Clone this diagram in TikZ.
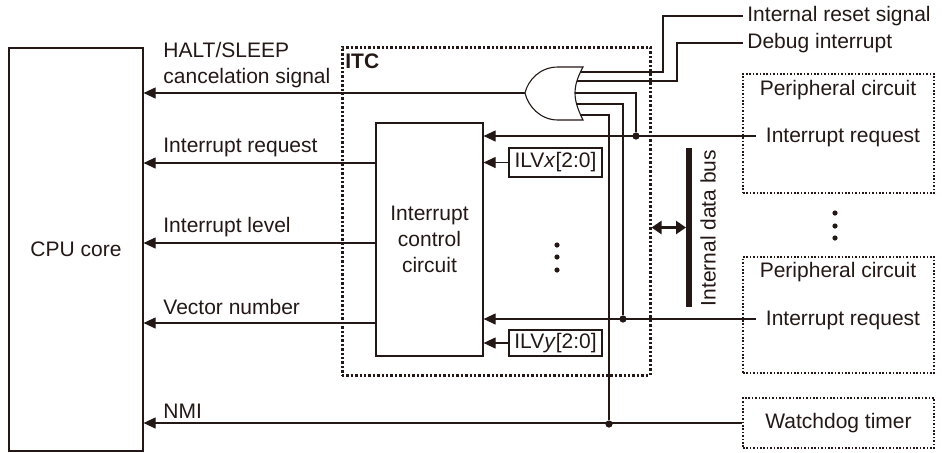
\documentclass[tikz,border=0pt]{standalone}
\usepackage{fontspec}
\setmainfont{Liberation Sans}
\usetikzlibrary{arrows.meta}
\definecolor{ink}{HTML}{231815}
\begin{document}
\begin{tikzpicture}[x=0.5pt,y=-0.5pt,
  font=\fontsize{10.5}{13}\selectfont, text=ink,
  sig/.style={draw=ink, line width=0.55pt},
  arr/.style={sig, -{Triangle[length=6pt,width=5.5pt]}},
  solidbox/.style={draw=ink, line width=0.6pt, inner sep=0, align=center},
  dotbox/.style={draw=ink, line width=0.85pt, dash pattern=on 0.8pt off 0.9pt, inner sep=0},
  itcbox/.style={draw=ink, line width=1.5pt, dash pattern=on 1.2pt off 1pt, inner sep=0},
  jdot/.style={circle, fill=ink, inner sep=0, minimum size=3.6pt},
  edot/.style={circle, fill=ink, inner sep=0, minimum size=2.6pt},
  lbl/.style={inner sep=0, anchor=west, align=left}]
\useasboundingbox (0,0) rectangle (942,452);

% main blocks
\node[solidbox, minimum width=67pt, minimum height=201.5pt] (cpu) at (76,249.5) {CPU core};
\node[itcbox, minimum width=154pt, minimum height=164pt] (itc) at (496,211) {};
\node[lbl, font=\fontsize{10.5}{13}\selectfont\bfseries] (itclbl) at (345,61) {ITC};
\node[solidbox, minimum width=53.5pt, minimum height=116.5pt] (icc) at (429.5,239.5) {Interrupt\\control\\circuit};
\node[solidbox, minimum width=46.5pt, minimum height=14.5pt] (ilvx) at (555.5,162.5) {ILV\textit{x}[2:0]};
\node[solidbox, minimum width=46.5pt, minimum height=13pt] (ilvy) at (555.5,343) {ILV\textit{y}[2:0]};

% peripheral blocks
\node[dotbox, minimum width=95.5pt, minimum height=59.5pt] (per1) at (838.5,133.5) {};
\node[dotbox, minimum width=95.5pt, minimum height=58pt] (per2) at (838.5,315) {};
\node[dotbox, minimum width=95.5pt, minimum height=25pt] (wdt) at (838.5,423) {Watchdog timer};
\node[inner sep=0] (p1t) at (838,90) {Peripheral circuit};
\node[inner sep=0] (irq1) at (843,137) {Interrupt request};
\node[inner sep=0] (p2t) at (838,272) {Peripheral circuit};
\node[inner sep=0] (irq2) at (843,320) {Interrupt request};

% OR gate (facing left)
\draw[sig, fill=white] (583,67) -- (558,67) .. controls (540,67) and (528,80) .. (525,93)
  .. controls (528,106) and (540,120) .. (558,120) -- (583,120)
  .. controls (577,108) and (575,100) .. (575,93)
  .. controls (575,86) and (577,78) .. (583,67) -- cycle;
\coordinate (gout) at (525,93);
\coordinate (g1) at (580,72);
\coordinate (g2) at (577,81);
\coordinate (g3) at (575,93);
\coordinate (g4) at (576,104);
\coordinate (g5) at (580,115);

% external labels for gate inputs
\node[lbl, inner sep=2pt] (rst) at (743,16) {Internal reset signal};
\node[lbl, inner sep=2pt] (dbg) at (743,43) {Debug interrupt};
\draw[sig] (g1) -| (663,16) -- (rst.west);
\draw[sig] (g2) -| (677,43) -- (dbg.west);

% junctions
\node[jdot] (j1) at (636,136) {};
\node[jdot] (j2) at (623,319) {};
\node[jdot] (j3) at (609,424) {};
\draw[sig] (g3) -| (j1);
\draw[sig] (g4) -| (j2);
\draw[sig] (g5) -| (j3);

% interrupt requests into ICC
\draw[arr] ([xshift=-5pt]irq1.west |- j1) -- (icc.east |- j1);
\draw[arr] ([xshift=-5pt]irq2.west |- j2) -- (icc.east |- j2);
\draw[arr] (ilvx.west) -- (icc.east |- ilvx.west);
\draw[arr] (ilvy.west) -- (icc.east |- ilvy.west);

% outputs to CPU
\coordinate (yir) at (0,163);
\coordinate (ylv) at (0,243);
\coordinate (yvn) at (0,323);
\draw[arr] (gout) -- (cpu.east |- gout);
\draw[arr] (icc.west |- yir) -- (cpu.east |- yir);
\draw[arr] (icc.west |- ylv) -- (cpu.east |- ylv);
\draw[arr] (icc.west |- yvn) -- (cpu.east |- yvn);
\draw[arr] (wdt.west) -- (cpu.east |- wdt.west);

% signal labels
\node[lbl] (lhalt) at (163,65) {HALT/SLEEP\\cancelation signal};
\node[lbl] (lir) at (163,147) {Interrupt request};
\node[lbl] (llv) at (163,227) {Interrupt level};
\node[lbl] (lvn) at (163,307) {Vector number};
\node[lbl] (lnmi) at (163,411) {NMI};

% internal data bus
\node[fill=ink, inner sep=0, minimum width=2.6pt, minimum height=79.5pt] (bus) at (689,227.5) {};
\draw[draw=ink, line width=1.5pt, {Triangle[length=5pt,width=6.5pt]}-{Triangle[length=5pt,width=6.5pt]}] (itc.east |- bus) -- (bus.west);
\node[inner sep=0, rotate=90] (buslbl) at (708,228) {Internal data bus};

% ellipsis dots
\node[edot] (d1) at (557,245) {};
\node[edot] (d2) at (557,257) {};
\node[edot] (d3) at (557,270) {};
\node[edot] (d4) at (835,213) {};
\node[edot] (d5) at (835,226) {};
\node[edot] (d6) at (835,238) {};
\end{tikzpicture}
\end{document}
